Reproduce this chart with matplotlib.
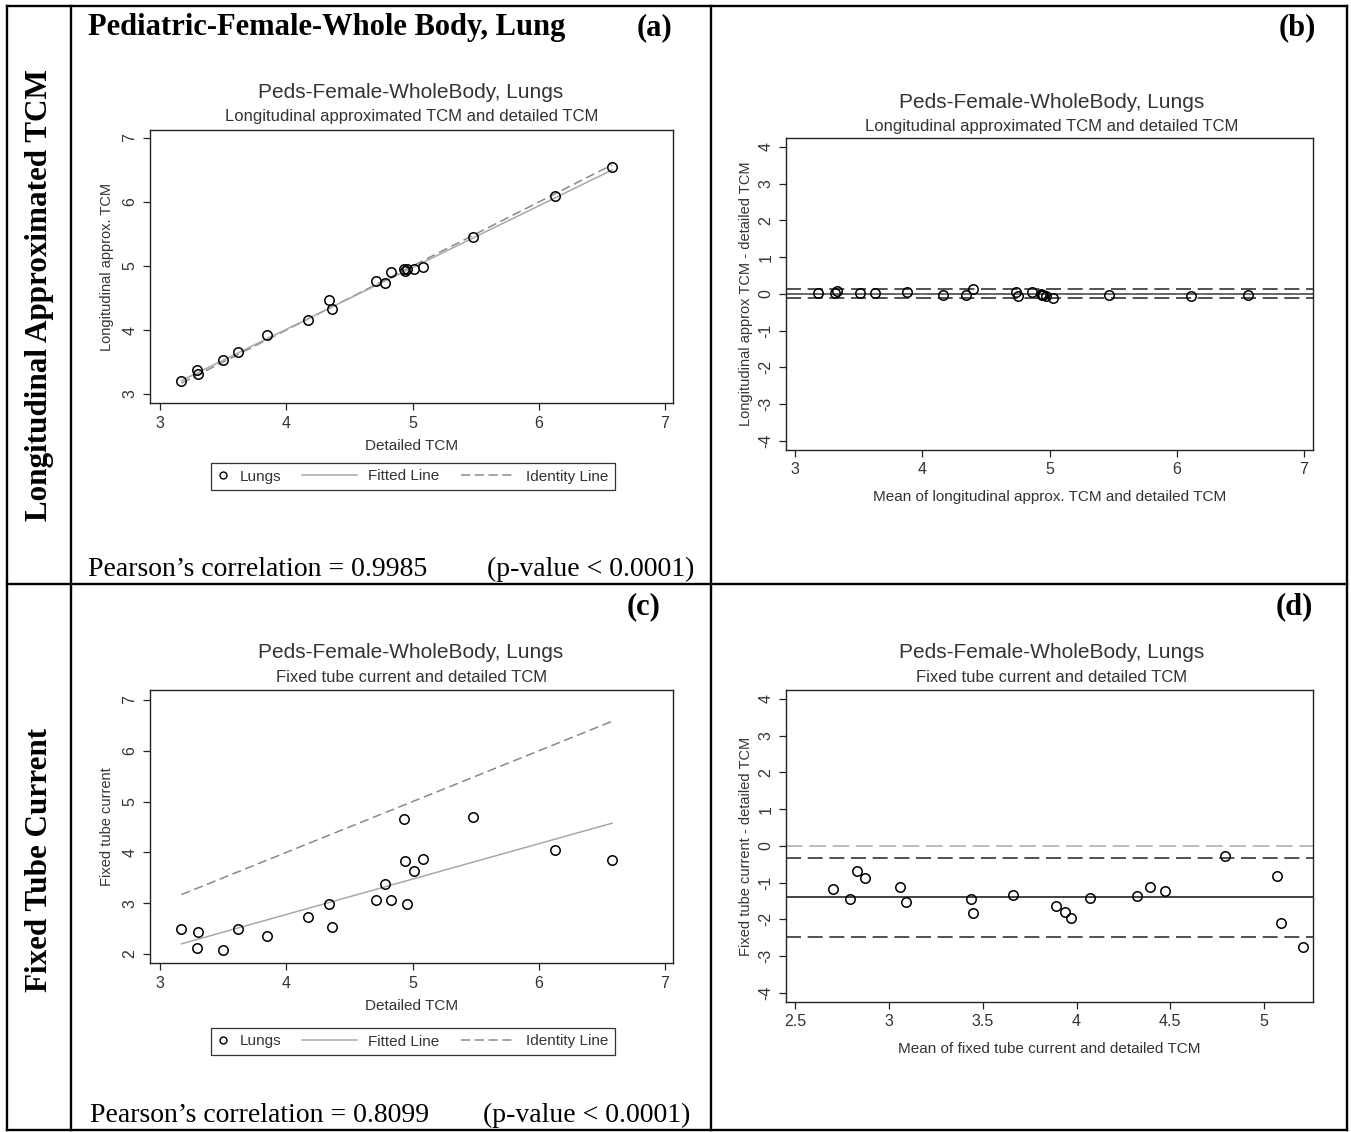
import matplotlib
matplotlib.use("Agg")
import matplotlib.pyplot as plt
from matplotlib.lines import Line2D
from matplotlib.legend_handler import HandlerLine2D

plt.rcParams["axes.unicode_minus"] = False

# ---------------- data ----------------
detailed = [3.17, 3.29, 3.30, 3.50, 3.62, 3.85, 4.17, 4.34, 4.36, 4.71,
            4.78, 4.83, 4.93, 4.94, 4.96, 5.01, 5.08, 5.48, 6.13, 6.58]
longitudinal = [3.21, 3.38, 3.32, 3.53, 3.65, 3.93, 4.15, 4.47, 4.33, 4.77,
                4.73, 4.91, 4.95, 4.92, 4.95, 4.95, 4.98, 5.46, 6.09, 6.54]
fixed_tube = [2.49, 2.12, 2.44, 2.08, 2.50, 2.35, 2.73, 2.99, 2.54, 3.07,
              3.38, 3.07, 4.66, 3.84, 2.99, 3.64, 3.87, 4.69, 4.04, 3.86]

fit_a_x = [3.17, 6.58]
fit_a_y = [3.21, 6.50]
fit_c_x = [3.17, 6.58]
fit_c_y = [2.20, 4.575]
identity_x = [3.17, 6.58]

ba1_mean = [3.18, 3.31, 3.33, 3.51, 3.63, 3.88, 4.16, 4.34, 4.40, 4.74,
            4.75, 4.86, 4.93, 4.94, 4.95, 4.97, 5.03, 5.47, 6.11, 6.56]
ba1_diff = [0.03, 0.01, 0.09, 0.02, 0.02, 0.06, -0.02, -0.03, 0.13, 0.06,
            -0.06, 0.06, -0.01, -0.02, -0.03, -0.06, -0.12, -0.02, -0.05, -0.04]
ba1_lines = {"mean": 0.005, "upper": 0.125, "lower": -0.12}

ba2_mean = [2.70, 2.79, 2.83, 2.87, 3.06, 3.09, 3.44, 3.45, 3.66, 3.89,
            3.94, 3.97, 4.07, 4.32, 4.39, 4.47, 4.79, 5.07, 5.09, 5.21]
ba2_diff = [-1.19, -1.44, -0.69, -0.87, -1.13, -1.52, -1.46, -1.83, -1.35, -1.65,
            -1.79, -1.98, -1.43, -1.38, -1.11, -1.23, -0.27, -0.81, -2.11, -2.75]
ba2_lines = {"mean": -1.39, "upper": -0.34, "lower": -2.48}

title_main = "Peds-Female-WholeBody, Lungs"
sub_a = "Longitudinal approximated TCM and detailed TCM"
sub_c = "Fixed tube current and detailed TCM"

# ---------------- layout helpers ----------------
W, H = 1351, 1132
fig = plt.figure(figsize=(W / 100, H / 100), dpi=100)
fig.patch.set_facecolor("white")

SANS = ["Liberation Sans", "DejaVu Sans"]
SERIF = ["Liberation Serif", "DejaVu Serif"]
TXT = "#333333"


def rect(l, t, r, b):
    return [l / W, 1 - b / H, (r - l) / W, (b - t) / H]


def ftext(x, y, s, **kw):
    kw.setdefault("va", "center")
    fig.text(x / W, 1 - y / H, s, **kw)


def fline(xs, ys, **kw):
    fig.add_artist(Line2D([x / W for x in xs], [1 - y / H for y in ys],
                          transform=fig.transFigure, color="black", lw=1.7, **kw))


def style_ax(ax, xlim, ylim, xticks, yticks, xticklabels=None):
    ax.set_xlim(*xlim)
    ax.set_ylim(*ylim)
    ax.set_xticks(xticks)
    if xticklabels is not None:
        ax.set_xticklabels(xticklabels)
    ax.set_yticks(yticks)
    for lab in ax.get_yticklabels():
        lab.set_rotation(90)
        lab.set_va("center")
    ax.tick_params(direction="out", length=5, width=0.9, colors="#222222",
                   labelsize=11.5, pad=4)
    for lab in ax.get_xticklabels() + ax.get_yticklabels():
        lab.set_family(SANS)
        lab.set_color(TXT)
    for sp in ax.spines.values():
        sp.set_linewidth(1.0)
        sp.set_color("#222222")


class NarrowHandler(HandlerLine2D):
    """Legend handler giving the marker-only entry a narrow handle box."""

    def legend_artist(self, legend, orig_handle, fontsize, handlebox):
        handlebox.width = 0.75 * fontsize
        return super().legend_artist(legend, orig_handle, fontsize, handlebox)


# ---------------- table grid ----------------
fline([7, 1347], [6, 6])
fline([7, 1347], [1130, 1130])
fline([7, 1347], [584, 584])
fline([7, 7], [6, 1130])
fline([71, 71], [6, 1130])
fline([711, 711], [6, 1130])
fline([1347, 1347], [6, 1130])

# heading texts
ftext(88, 28, "Pediatric-Female-Whole Body, Lung", family=SERIF, weight="bold",
      fontsize=22, ha="left")
ftext(672, 28, "(a)", family=SERIF, weight="bold", fontsize=22, ha="right")
ftext(1316, 28, "(b)", family=SERIF, weight="bold", fontsize=22, ha="right")
ftext(660, 607, "(c)", family=SERIF, weight="bold", fontsize=22, ha="right")
ftext(1313, 607, "(d)", family=SERIF, weight="bold", fontsize=22, ha="right")
ftext(40, 295, "Longitudinal Approximated TCM", family=SERIF, weight="bold",
      fontsize=22.4, ha="center", rotation=90)
ftext(40, 860, "Fixed Tube Current", family=SERIF, weight="bold",
      fontsize=22.4, ha="center", rotation=90)
ftext(88, 569, "Pearson\u2019s correlation = 0.9985", family=SERIF, fontsize=20, ha="left")
ftext(694, 569, "(p-value < 0.0001)", family=SERIF, fontsize=20, ha="right")
ftext(90, 1115, "Pearson\u2019s correlation = 0.8099", family=SERIF, fontsize=20, ha="left")
ftext(690, 1115, "(p-value < 0.0001)", family=SERIF, fontsize=20, ha="right")

PT_KW = dict(marker="o", ms=6.8, mfc="none", mec="black", mew=1.1, ls="none")
FIT_KW = dict(color="#a8a8a8", lw=1.1)
ID_KW = dict(color="#8a8a8a", lw=1.1, dashes=(6, 3))


def legend_for(ax, cy):
    pt = Line2D([], [], marker="o", ms=5, mfc="none", mec="black", mew=1.0, ls="none")
    handles = [pt, Line2D([], [], **FIT_KW), Line2D([], [], **ID_KW)]
    leg = ax.legend(handles, ["Lungs", "Fitted Line", "Identity Line"],
                    loc="center", bbox_to_anchor=(413 / W, 1 - cy / H),
                    bbox_transform=fig.transFigure, ncol=3, frameon=True,
                    fancybox=False, framealpha=1, edgecolor="#333333",
                    prop={"family": SANS, "size": 11}, handlelength=3.6,
                    handletextpad=0.7, columnspacing=1.4, borderpad=0.4,
                    numpoints=1, handler_map={pt: NarrowHandler(numpoints=1)})
    leg.get_frame().set_linewidth(0.9)
    for t in leg.get_texts():
        t.set_color(TXT)


# ---------------- panel (a) ----------------
ax = fig.add_axes(rect(150, 130, 673, 403))
ax.plot(identity_x, identity_x, **ID_KW)
ax.plot(fit_a_x, fit_a_y, **FIT_KW)
ax.plot(detailed, longitudinal, **PT_KW)
style_ax(ax, (2.921, 7.063), (2.86, 7.125), [3, 4, 5, 6, 7], [3, 4, 5, 6, 7])
ax.set_xlabel("Detailed TCM", family=SANS, fontsize=11, color=TXT, labelpad=6)
ax.set_ylabel("Longitudinal approx. TCM", family=SANS, fontsize=10.5, color=TXT, labelpad=6)
ftext(411, 92, title_main, family=SANS, fontsize=15, ha="center", color=TXT)
ftext(412, 117, sub_a, family=SANS, fontsize=12, ha="center", color=TXT)
legend_for(ax, 476.5)

# ---------------- panel (b) ----------------
ax = fig.add_axes(rect(786, 138, 1313, 450))
ax.axhline(0, color="#b0b0b0", lw=1.2, dashes=(10, 4))
ax.axhline(ba1_lines["mean"], color="#555555", lw=1.2)
ax.axhline(ba1_lines["upper"], color="#333333", lw=1.2, dashes=(9, 4))
ax.axhline(ba1_lines["lower"], color="#333333", lw=1.2, dashes=(9, 4))
ax.plot(ba1_mean, ba1_diff, **PT_KW)
style_ax(ax, (2.927, 7.073), (-4.255, 4.245), [3, 4, 5, 6, 7],
         [-4, -3, -2, -1, 0, 1, 2, 3, 4])
ax.set_xlabel("Mean of longitudinal approx. TCM and detailed TCM", family=SANS,
              fontsize=11, color=TXT, labelpad=9)
ax.set_ylabel("Longitudinal approx TCM - detailed TCM", family=SANS, fontsize=10.5,
              color=TXT, labelpad=4)
ftext(1052, 102, title_main, family=SANS, fontsize=15, ha="center", color=TXT)
ftext(1052, 127, sub_a, family=SANS, fontsize=12, ha="center", color=TXT)

# ---------------- panel (c) ----------------
ax = fig.add_axes(rect(150, 690, 673, 963))
ax.plot(identity_x, identity_x, **ID_KW)
ax.plot(fit_c_x, fit_c_y, **FIT_KW)
ax.plot(detailed, fixed_tube, **PT_KW)
style_ax(ax, (2.921, 7.063), (1.823, 7.197), [3, 4, 5, 6, 7], [2, 3, 4, 5, 6, 7])
ax.set_xlabel("Detailed TCM", family=SANS, fontsize=11, color=TXT, labelpad=6)
ax.set_ylabel("Fixed tube current", family=SANS, fontsize=10.5, color=TXT, labelpad=6)
ftext(411, 653, title_main, family=SANS, fontsize=15, ha="center", color=TXT)
ftext(412, 677, sub_c, family=SANS, fontsize=12, ha="center", color=TXT)
legend_for(ax, 1041.5)

# ---------------- panel (d) ----------------
ax = fig.add_axes(rect(786, 690, 1313, 1002))
ax.axhline(0, color="#b0b0b0", lw=1.2, dashes=(10, 4))
ax.axhline(ba2_lines["mean"], color="#222222", lw=1.2)
ax.axhline(ba2_lines["upper"], color="#333333", lw=1.2, dashes=(9, 4))
ax.axhline(ba2_lines["lower"], color="#333333", lw=1.2, dashes=(9, 4))
ax.plot(ba2_mean, ba2_diff, **PT_KW)
style_ax(ax, (2.451, 5.261), (-4.255, 4.245), [2.5, 3, 3.5, 4, 4.5, 5],
         [-4, -3, -2, -1, 0, 1, 2, 3, 4], ["2.5", "3", "3.5", "4", "4.5", "5"])
ax.set_xlabel("Mean of fixed tube current and detailed TCM", family=SANS,
              fontsize=11, color=TXT, labelpad=9)
ax.set_ylabel("Fixed tube current - detailed TCM", family=SANS, fontsize=10.5,
              color=TXT, labelpad=4)
ftext(1052, 653, title_main, family=SANS, fontsize=15, ha="center", color=TXT)
ftext(1052, 677, sub_c, family=SANS, fontsize=12, ha="center", color=TXT)

fig.savefig("out.png", dpi=100, facecolor="white")
